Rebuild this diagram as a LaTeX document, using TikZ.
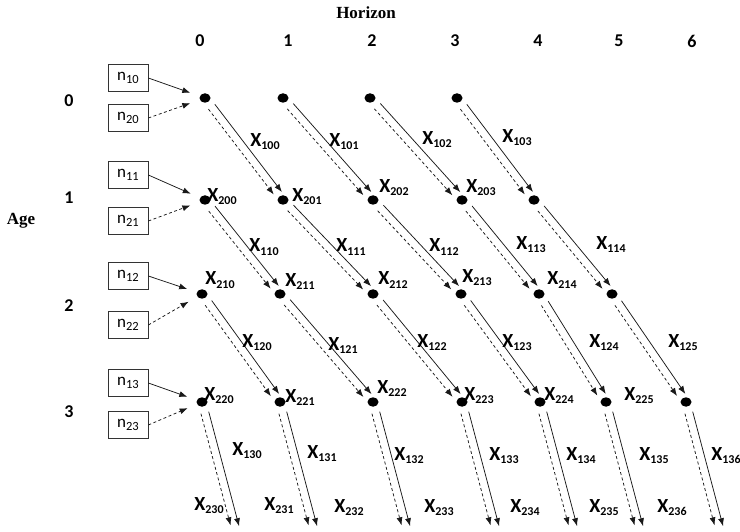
\documentclass[tikz,border=0pt]{standalone}
\usepackage{fontspec}
\setmainfont{Carlito}
\newfontfamily\headfont{Liberation Serif}
\usepackage{tikz}
\usetikzlibrary{arrows.meta, positioning, calc, shapes.geometric}
\tikzset{
  dot/.style={ellipse, fill=black, inner sep=0pt, minimum width=11pt, minimum height=9.5pt},
  nbox/.style={rectangle, draw=black!80, line width=0.7pt,
    minimum width=40pt, minimum height=27pt, inner sep=0pt,
    font=\fontsize{17}{17}\selectfont},
  flow/.style={-{Latex[length=8pt,width=6pt]}, line width=0.75pt, color=black!90},
  dflow/.style={flow, dash pattern=on 3pt off 2.5pt},
  xlab/.style={anchor=base, font=\fontsize{20}{20}\selectfont\bfseries},
  hdr/.style={font=\fontsize{18}{18}\selectfont\bfseries},
  title/.style={font=\fontsize{17}{17}\selectfont\headfont\bfseries}
}
\newcommand{\xsub}[1]{X\raisebox{-3pt}{\fontsize{12}{12}\selectfont #1}}
\newcommand{\nsub}[1]{n\raisebox{-3pt}{\fontsize{12.5}{12.5}\selectfont #1}}
\newcommand{\flowpair}[2]{%
  \draw[flow, shorten <=11pt, shorten >=7pt] ($(#1)!4pt!90:(#2)$) -- ($(#2)!4pt!-90:(#1)$);
  \draw[dflow, shorten <=11pt, shorten >=10pt] ($(#1)!4pt!-90:(#2)$) -- ($(#2)!4pt!90:(#1)$);
}

\begin{document}
\begin{tikzpicture}[x=1pt, y=-1pt]
  \useasboundingbox (0,0) rectangle (740,532);

  % Headings
  \node[title] (horizon) at (366,13) {Horizon};
  \node[title] (age) at (21,221) {Age};
  \foreach \c/\x in {0/200,1/288,2/372,3/455,4/538,5/619,6/692}
    \node[hdr] (h\c) at (\x,41) {\c};
  \foreach \r/\y in {0/101,1/198,2/306,3/412}
    \node[hdr] (a\r) at (69,\y) {\r};

  % Dots
  \foreach \c/\x in {0/205,1/283,2/370,3/457}
    \node[dot] (d0-\c) at (\x,98) {};
  \foreach \c/\x in {0/205,1/283,2/373,3/462,4/534}
    \node[dot] (d1-\c) at (\x,200) {};
  \foreach \c/\x in {0/202,1/280,2/373,3/461,4/539,5/612}
    \node[dot] (d2-\c) at (\x,294) {};
  \foreach \c/\x in {0/202,1/280,2/373,3/462,4/540,5/606,6/686}
    \node[dot] (d3-\c) at (\x,402) {};

  % Entry boxes
  \foreach \r/\y in {0/78,1/175,2/276,3/383}
    \node[nbox] (n1\r) at (128,\y) {\nsub{1\r}};
  \foreach \r/\y in {0/118,1/221,2/325,3/425}
    \node[nbox] (n2\r) at (128,\y) {\nsub{2\r}};
  \foreach \r in {0,...,3} {
    \draw[flow, shorten >=10pt] (n1\r.east) -- (d\r-0);
    \draw[dflow, shorten >=10pt] (n2\r.east) -- (d\r-0);
  }

  % Diagonal flows
  \foreach \r/\n in {0/3,1/4,2/5} {
    \foreach \c in {0,...,\n} {
      \pgfmathtruncatemacro{\rr}{\r+1}
      \pgfmathtruncatemacro{\cc}{\c+1}
      \flowpair{d\r-\c}{d\rr-\cc}
    }
  }

  % Flows out of the last age
  \foreach \c/\x in {0/202,1/280,2/373,3/462,4/540,5/606,6/686} {
    \coordinate (e\c) at (\x+35,534);
    \flowpair{d3-\c}{e\c}
  }

  % Labels
  \foreach \s/\x/\y in {100/265/147, 101/344/147, 102/437/145, 103/517/143,
      110/264/252, 111/351/252, 112/444/252, 113/531/250, 114/611/250,
      120/257/347, 121/343/350, 122/432/347, 123/517/347, 124/604/347, 125/683/347,
      130/247/455, 131/322/458, 132/409/460, 133/504/460, 134/581/460, 135/654/460, 136/726/460}
    \node[xlab] (x\s) at (\x,\y) {\xsub{\s}};
  \foreach \s/\x/\y in {200/222/202, 201/307/202, 202/394/193, 203/481/193,
      210/220/285, 211/300/287, 212/393/285, 213/477/283, 214/562/285,
      220/219/400, 221/300/402, 222/392/393, 223/479/400, 224/559/400, 225/639/400,
      230/209/510, 231/279/510, 232/349/512, 233/439/512, 234/525/512, 235/604/512, 236/672/512}
    \node[xlab] (x\s) at (\x,\y) {\xsub{\s}};
\end{tikzpicture}
\end{document}
